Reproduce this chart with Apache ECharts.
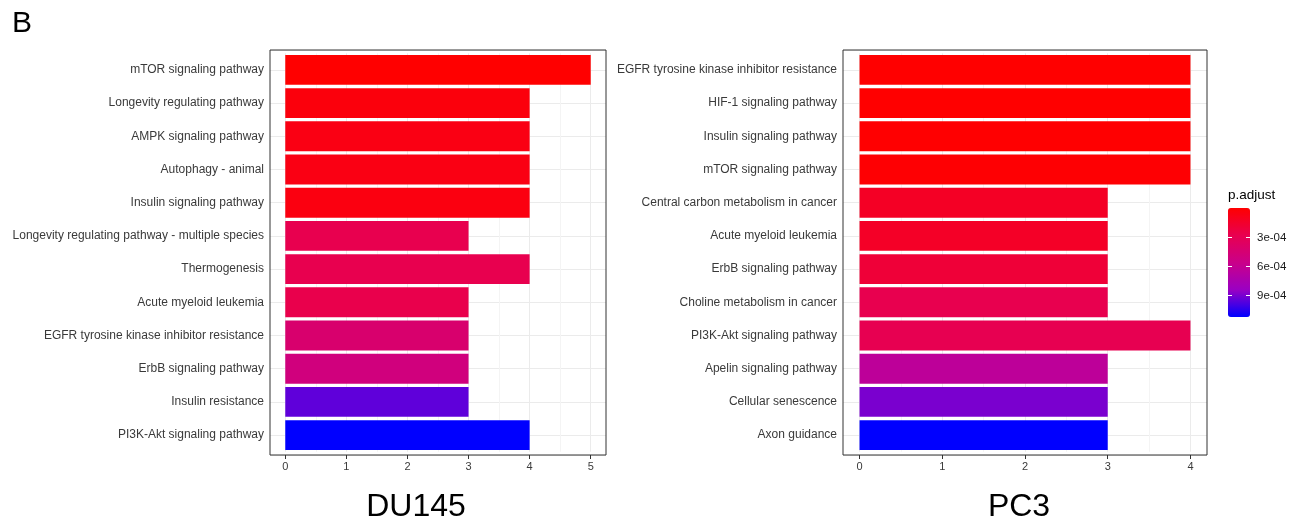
<!DOCTYPE html>
<html>
<head>
<meta charset="utf-8">
<script src="https://cdn.jsdelivr.net/npm/echarts@6/dist/echarts.min.js"></script>
<style>
body{margin:0;background:#fff}
#chart{width:1301px;height:522px}
</style>
</head>
<body>
<div id="chart"></div>
<script>
// DU145 panel
const du145Pathways=['mTOR signaling pathway','Longevity regulating pathway','AMPK signaling pathway','Autophagy - animal','Insulin signaling pathway','Longevity regulating pathway - multiple species','Thermogenesis','Acute myeloid leukemia','EGFR tyrosine kinase inhibitor resistance','ErbB signaling pathway','Insulin resistance','PI3K-Akt signaling pathway'];
const du145Counts=[5,4,4,4,4,3,4,3,3,3,3,4];
const du145Padj=[2.0e-6,6.0e-5,9.0e-5,9.0e-5,7.5e-5,3.7e-4,3.7e-4,3.6e-4,5.7e-4,6.7e-4,1.27e-3,1.5e-3];

// PC3 panel
const pc3Pathways=['EGFR tyrosine kinase inhibitor resistance','HIF-1 signaling pathway','Insulin signaling pathway','mTOR signaling pathway','Central carbon metabolism in cancer','Acute myeloid leukemia','ErbB signaling pathway','Choline metabolism in cancer','PI3K-Akt signaling pathway','Apelin signaling pathway','Cellular senescence','Axon guidance'];
const pc3Counts=[4,4,4,4,3,3,3,3,4,3,3,3];
const pc3Padj=[5.0e-6,6.0e-6,8.0e-6,1.6e-5,1.35e-4,1.4e-4,2.0e-4,2.8e-4,2.9e-4,6.4e-4,9.0e-4,1.122e-3];

const legendTicks=[3e-4,6e-4,9e-4];
const legendTickLabels=['3e-04','6e-04','9e-04'];

const FONT='"Liberation Sans", Arial, sans-serif';
// red -> blue gradient (lab-like stops)
const padjColors=['#ff0000','#e80050','#ca0089','#9a00c3','#0000ff'];
const TXT='#3a3a3a';

// ggplot discrete axis: categories 1..12, expanded by 0.6 each side
const TOP=50,HEIGHT=405,NCAT=12;
const unitY=HEIGHT/(NCAT+0.2);

function panel(frameLeft,frameWidth,xMax,cats,gi){
 const xExp=xMax*0.05;
 const unitX=frameWidth/(xMax+2*xExp);
 const grids=[
  {left:frameLeft,top:TOP,width:frameWidth,height:HEIGHT,show:true,borderColor:'#333',borderWidth:1,z:10},
  {left:frameLeft+xExp*unitX,top:TOP+0.1*unitY,width:xMax*unitX,height:NCAT*unitY}
 ];
 const xAxes=[
  {gridIndex:gi,type:'value',min:-xExp,max:xMax+xExp,axisLine:{show:false},axisTick:{show:false},axisLabel:{show:false},splitLine:{show:false}},
  {gridIndex:gi+1,type:'value',min:0,max:xMax,interval:1,offset:0.1*unitY,
   axisLine:{show:false},axisTick:{show:true,length:4,lineStyle:{color:'#333'}},
   axisLabel:{color:TXT,fontSize:11,margin:6,fontFamily:FONT},
   splitLine:{lineStyle:{color:'#ebebeb'}},
   minorTick:{show:false,splitNumber:2},minorSplitLine:{show:true,lineStyle:{color:'#f4f4f4'}}}
 ];
 const yAxes=[
  {gridIndex:gi,type:'value',min:0.4,max:NCAT+0.6,inverse:true,splitNumber:NCAT,axisLine:{show:false},axisTick:{show:false},axisLabel:{show:false},splitLine:{show:true,lineStyle:{color:'#ebebeb'}}},
  {gridIndex:gi+1,type:'category',data:cats,inverse:true,offset:xExp*unitX,
   axisLine:{show:false},axisTick:{alignWithLabel:true,length:4,lineStyle:{color:'#333'}},
   axisLabel:{interval:0,color:TXT,fontSize:12,margin:6,fontFamily:FONT},splitLine:{show:false}}
 ];
 return {grids,xAxes,yAxes};
}

const pL=panel(270,336,5,du145Pathways,0);
const pR=panel(843,364,4,pc3Pathways,2);

const cbLeft=1228,cbTop=208,cbW=22,cbH=109;
const pMin=Math.min(...pc3Padj),pMax=Math.max(...pc3Padj);

const graphic=[
 {type:'text',style:{text:'B',x:12,y:24,font:'30px '+FONT,fill:'#000',verticalAlign:'middle'}},
 {type:'text',style:{text:'DU145',x:416,y:507,font:'32px '+FONT,fill:'#000',align:'center',verticalAlign:'middle'}},
 {type:'text',style:{text:'PC3',x:1019,y:507,font:'32px '+FONT,fill:'#000',align:'center',verticalAlign:'middle'}},
 {type:'text',style:{text:'p.adjust',x:cbLeft,y:195,font:'13.5px '+FONT,fill:'#000',verticalAlign:'middle'}}
];
legendTicks.forEach((v,i)=>{
 const y=Math.round(cbTop+(v-pMin)/(pMax-pMin)*cbH)+0.5;
 graphic.push({type:'text',z:100,style:{text:legendTickLabels[i],x:cbLeft+cbW+7,y:y,font:'11.5px '+FONT,fill:'#1a1a1a',verticalAlign:'middle'}});
 graphic.push({type:'line',z:100,shape:{x1:cbLeft,y1:y,x2:cbLeft+4,y2:y},style:{stroke:'#fff',lineWidth:1}});
 graphic.push({type:'line',z:100,shape:{x1:cbLeft+cbW-4,y1:y,x2:cbLeft+cbW,y2:y},style:{stroke:'#fff',lineWidth:1}});
});

function barSeries(cats,counts,padj,xi){
 return {type:'bar',xAxisIndex:xi,yAxisIndex:xi,barCategoryGap:'10%',silent:true,
  data:cats.map((c,i)=>[counts[i],c,padj[i]]),encode:{x:0,y:1}};
}

const chart=echarts.init(document.getElementById('chart'));
chart.setOption({
 backgroundColor:'#fff',
 animation:false,
 textStyle:{fontFamily:FONT},
 grid:[...pL.grids,...pR.grids],
 xAxis:[...pL.xAxes,...pR.xAxes],
 yAxis:[...pL.yAxes,...pR.yAxes],
 visualMap:[
  {type:'continuous',show:false,seriesIndex:0,dimension:2,min:Math.min(...du145Padj),max:Math.max(...du145Padj),inRange:{color:padjColors}},
  {type:'continuous',show:true,seriesIndex:1,dimension:2,min:pMin,max:pMax,inverse:true,calculable:false,
   left:cbLeft,top:cbTop,itemWidth:cbW,itemHeight:cbH,padding:0,inRange:{color:padjColors}}
 ],
 graphic:graphic,
 series:[
  barSeries(du145Pathways,du145Counts,du145Padj,1),
  barSeries(pc3Pathways,pc3Counts,pc3Padj,3)
 ]
});
</script>
</body>
</html>
